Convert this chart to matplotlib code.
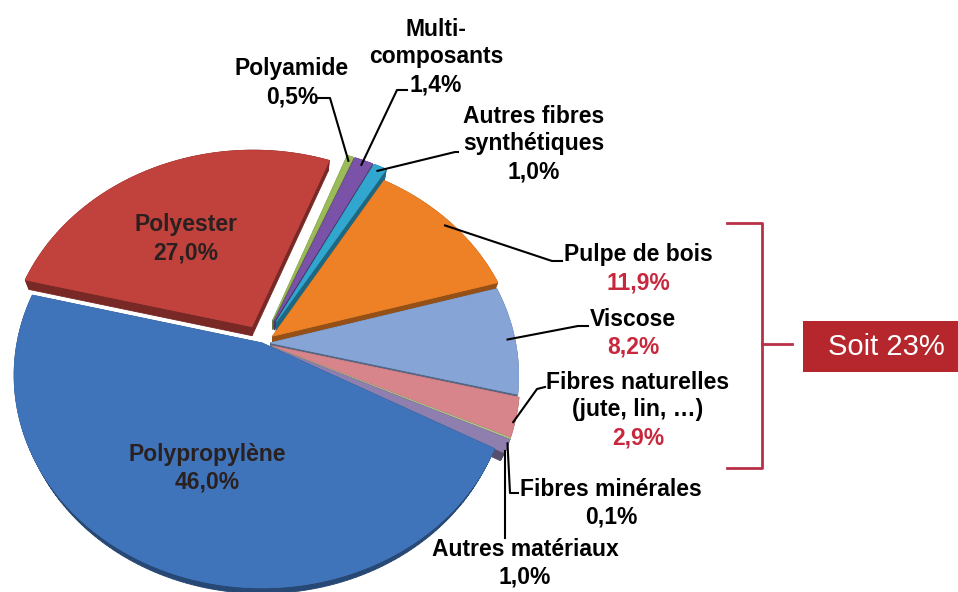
import numpy as np
import matplotlib.pyplot as plt
from matplotlib.patches import Polygon, Rectangle
from matplotlib.colors import to_rgb

# slices, clockwise from the top
names = ['Polyamide', 'Multi-\ncomposants', 'Autres fibres\nsynthétiques', 'Pulpe de bois',
         'Viscose', 'Fibres naturelles\n(jute, lin, …)', 'Fibres minérales',
         'Autres matériaux', 'Polypropylène', 'Polyester']
values = [0.5, 1.4, 1.0, 11.9, 8.2, 2.9, 0.1, 1.0, 46.0, 27.0]
colors = ['#9bbb59', '#7a52a8', '#31a6cf', '#ee8125', '#86a5d6',
          '#d7848a', '#b5c98a', '#8e7fae', '#3f74bb', '#c1413c']
explode = [0.12, 0.12, 0.12, 0.055, 0.035, 0.04, 0.04, 0.04, 0.0, 0.09]
red_values = ['Pulpe de bois', 'Viscose', 'Fibres naturelles\n(jute, lin, …)']
inside = ['Polypropylène', 'Polyester']
total_text = 'Soit 23%'

# label layout in pixels: (x centre, y of value line)
label_pos = [(292, 97), (436, 85), (534, 172), (638, 283), (633, 347),
             (638, 438), (611, 517), (525, 577), (207, 482), (186, 253)]
# leader line: start near text, elbow (pixels); None = inside label
leader = [((318, 98), (330, 98)), ((407, 90), (397, 90)), ((458, 152), (455, 152)),
          ((562, 261), (552, 261)), ((588, 326), (578, 326)), ((545, 387), (537, 389)),
          ((518, 493), (510, 493)), ('vertical', 538), None, None]
# leader anchors on the slice: on the top face or on the front rim
on_rim = [False, False, False, False, False, True, True, True, False, False]

plt.rcParams['font.family'] = ['Liberation Sans', 'DejaVu Sans']

W, H = 958, 592
fig = plt.figure(figsize=(W / 100, H / 100), dpi=100)
ax = fig.add_axes([0, 0, 1, 1])
ax.set_xlim(0, W)
ax.set_ylim(H, 0)
ax.axis('off')

# let matplotlib lay out the slices, then project them in 3D
pie_ax = fig.add_axes([0, 0, 0.1, 0.1])
wedges, _ = pie_ax.pie(values, explode=explode, startangle=69, counterclock=False)
pie_ax.set_visible(False)

S, cx, cy = 245, 262, 343
elev = np.radians(58)
dist = 3.5
thick = 0.07


def project(x, y, h=0.0):
    depth = -np.asarray(y) * np.cos(elev) + h * np.sin(elev)
    f = dist / (dist - depth)
    return cx + S * np.asarray(x) * f, cy - S * (np.asarray(y) * np.sin(elev) + h * np.cos(elev)) * f


def darker(c, k=0.62):
    return tuple(v * k for v in to_rgb(c))


order = sorted(range(len(wedges)),
               key=lambda i: -np.sin(np.radians((wedges[i].theta1 + wedges[i].theta2) / 2)))
for i in order:
    w = wedges[i]
    n = max(int(w.theta2 - w.theta1), 2) + 1
    t = np.radians(np.linspace(w.theta1, w.theta2, n))
    ox, oy = w.center
    px = np.r_[ox, ox + w.r * np.cos(t)]
    py = np.r_[oy, oy + w.r * np.sin(t)]
    tx, ty = project(px, py, 0)
    bx, by = project(px, py, -thick)
    side = darker(colors[i])
    for a in range(len(px)):
        b = (a + 1) % len(px)
        quad = [(tx[a], ty[a]), (tx[b], ty[b]), (bx[b], by[b]), (bx[a], by[a])]
        ax.add_patch(Polygon(quad, closed=True, fc=side, ec=side, lw=0.6))
    ax.add_patch(Polygon(np.c_[tx, ty], closed=True, fc=colors[i], ec=colors[i], lw=0.6))

# labels
fs = 16.5
pitch = 28
for i, name in enumerate(names):
    x, yv = label_pos[i]
    pct = f'{values[i]:.1f}%'.replace('.', ',')
    nl = name.count('\n') + 1
    if name in inside:
        col_n = col_v = '#2a2020'
    else:
        col_n = 'black'
        col_v = '#c8283e' if name in red_values else 'black'
    ax.text(x, yv, pct, ha='center', va='center', fontsize=fs, fontweight='bold', color=col_v)
    ax.text(x, yv - pitch * (nl + 1) / 2, name, ha='center', va='center', fontsize=fs,
            fontweight='bold', color=col_n, linespacing=1.18)

    ld = leader[i]
    if ld is None:
        continue
    w = wedges[i]
    mid = np.radians((w.theta1 + w.theta2) / 2)
    if on_rim[i]:
        axp, ayp = project(w.center[0] + np.cos(mid), w.center[1] + np.sin(mid), -thick * 0.6)
    else:
        axp, ayp = project(w.center[0] + 0.97 * np.cos(mid), w.center[1] + 0.97 * np.sin(mid), 0)
    if ld[0] == 'vertical':
        ax.plot([axp, axp], [ld[1], ayp], color='black', lw=1.5)
    else:
        (sx, sy), (ex, ey) = ld
        ax.plot([sx, ex, axp], [sy, ey, ayp], color='black', lw=1.5)

# bracket and total box
bc = '#b83048'
ax.plot([727, 762, 762, 727], [223, 223, 468, 468], color=bc, lw=2)
ax.plot([762, 792], [344, 344], color=bc, lw=2)
ax.add_patch(Rectangle((803, 321), 160, 51, fc='#b5262d', ec='none'))
ax.text(886, 347, total_text, ha='center', va='center', fontsize=21, color='white')

fig.savefig('out.png', dpi=100, facecolor='white')
